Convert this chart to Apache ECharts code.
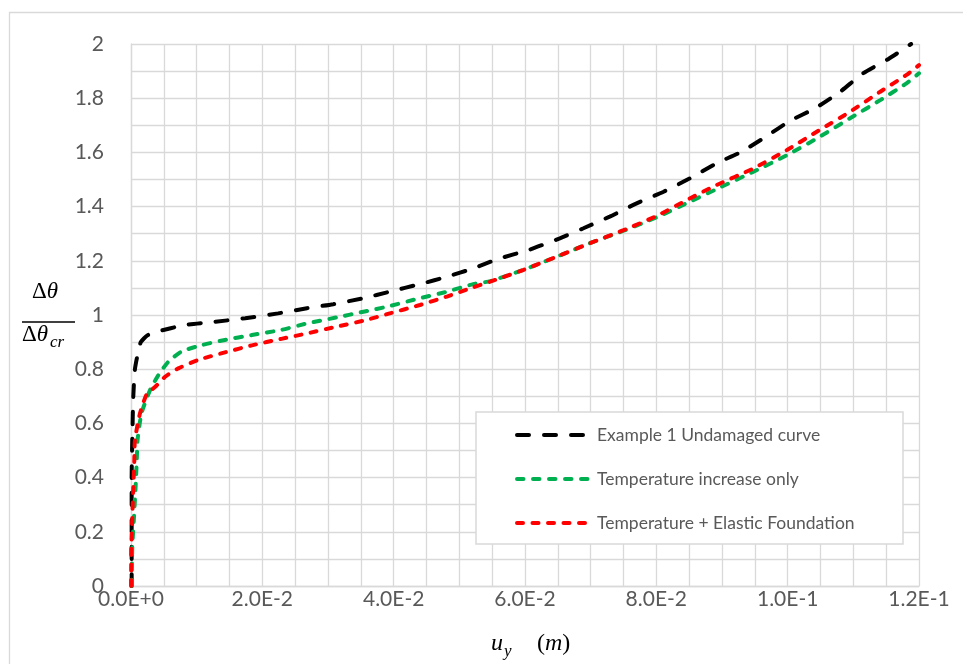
<!DOCTYPE html>
<html>
<head>
<meta charset="utf-8">
<script src="https://cdn.jsdelivr.net/npm/echarts@6/dist/echarts.min.js"></script>
<style>
html,body{margin:0;padding:0;background:#fff;}
#c{width:963px;height:664px;}
</style>
</head>
<body>
<div id="c"></div>
<script>
// ---- data ----
const seriesNames = ['Example 1 Undamaged curve', 'Temperature increase only', 'Temperature + Elastic Foundation'];

const blackX = [0.0001, 0.0001, 0.0001, 0.0002, 0.00035, 0.0006, 0.0011, 0.0015, 0.0025, 0.0039, 0.0082, 0.0128, 0.0174, 0.0224, 0.0268, 0.0308, 0.0354, 0.0394, 0.0440, 0.0481, 0.0521, 0.0557, 0.0608, 0.0653, 0.0689, 0.0729, 0.0770, 0.0811, 0.0851, 0.0892, 0.0930, 0.0968, 0.1004, 0.1042, 0.1080, 0.1115, 0.1153, 0.1188];
const blackY = [0, 0.2, 0.4, 0.55, 0.70, 0.80, 0.865, 0.90, 0.925, 0.938, 0.963, 0.975, 0.988, 1.006, 1.025, 1.04, 1.062, 1.086, 1.114, 1.141, 1.172, 1.205, 1.242, 1.283, 1.32, 1.363, 1.412, 1.455, 1.504, 1.56, 1.603, 1.66, 1.717, 1.763, 1.824, 1.892, 1.944, 2.0];

const greenX = [0.0001, 0.0002, 0.00046, 0.0007, 0.00087, 0.001, 0.0016, 0.0029, 0.0042, 0.0057, 0.0077, 0.0108, 0.0143, 0.0184, 0.0229, 0.0268, 0.0313, 0.0354, 0.0394, 0.0440, 0.0481, 0.0521, 0.0547, 0.0597, 0.0648, 0.0699, 0.0750, 0.0800, 0.0851, 0.0892, 0.0948, 0.0999, 0.1049, 0.1095, 0.1141, 0.1181, 0.1200];
const greenY = [0, 0.145, 0.256, 0.366, 0.459, 0.539, 0.637, 0.723, 0.779, 0.828, 0.865, 0.889, 0.908, 0.926, 0.945, 0.969, 0.991, 1.012, 1.033, 1.062, 1.086, 1.114, 1.125, 1.166, 1.215, 1.265, 1.311, 1.360, 1.418, 1.465, 1.529, 1.59, 1.658, 1.726, 1.793, 1.855, 1.892];

const redX = [0.00002, 0.00005, 0.0002, 0.00035, 0.0005, 0.0006, 0.00137, 0.0024, 0.0037, 0.0052, 0.0072, 0.0102, 0.0143, 0.0184, 0.0229, 0.0268, 0.0313, 0.0354, 0.0394, 0.0440, 0.0481, 0.0521, 0.0547, 0.0597, 0.0648, 0.0699, 0.0750, 0.0800, 0.0851, 0.0892, 0.0948, 0.0999, 0.1049, 0.1095, 0.1141, 0.1181, 0.1200];
const redY = [0, 0.145, 0.256, 0.366, 0.459, 0.539, 0.637, 0.708, 0.735, 0.772, 0.803, 0.834, 0.862, 0.888, 0.912, 0.932, 0.957, 0.979, 1.006, 1.037, 1.068, 1.102, 1.123, 1.166, 1.215, 1.265, 1.313, 1.365, 1.43, 1.48, 1.541, 1.609, 1.683, 1.75, 1.824, 1.886, 1.922];

const xTickLabels = ['0.0E+0', '2.0E-2', '4.0E-2', '6.0E-2', '8.0E-2', '1.0E-1', '1.2E-1'];
const xLabelStep = 0.02;
const yTickLabels = ['0', '0.2', '0.4', '0.6', '0.8', '1', '1.2', '1.4', '1.6', '1.8', '2'];
const yLabelStep = 0.2;

// ---- build ----
function pairs(xs, ys) { return xs.map((x, i) => [x, ys[i]]); }
function labelFor(list, step) {
  return function (v) {
    const k = Math.round(v / step);
    if (Math.abs(v - k * step) < 1e-9 && k >= 0 && k < list.length) return list[k];
    return '';
  };
}

const gridColor = '#d9d9d9';
const textColor = '#595959';
const uiFont = 'Lato, "Open Sans", sans-serif';
const mathFont = '"Liberation Serif", "DejaVu Serif", serif';

const colors = ['#000000', '#00B050', '#FF0000'];
const dashes = [[12, 15], [6.5, 9.5], [6, 9.5]];
const lw = 4;

const chart = echarts.init(document.getElementById('c'), null, { renderer: 'canvas' });
chart.setOption({
  animation: false,
  backgroundColor: '#fff',
  grid: { left: 131, right: 44, top: 44, bottom: 78, containLabel: false },
  xAxis: {
    type: 'value', min: 0, max: 0.12, interval: 0.005,
    axisLine: { show: true, lineStyle: { color: gridColor, width: 1.3 } },
    axisTick: { show: false },
    splitLine: { show: true, lineStyle: { color: gridColor, width: 1.3 } },
    axisLabel: { formatter: labelFor(xTickLabels, xLabelStep), color: textColor, fontFamily: uiFont, fontSize: 21, margin: 3, showMinLabel: true, showMaxLabel: true, hideOverlap: false }
  },
  yAxis: {
    type: 'value', min: 0, max: 2, interval: 0.1,
    axisLine: { show: true, lineStyle: { color: gridColor, width: 1.3 } },
    axisTick: { show: false },
    splitLine: { show: true, lineStyle: { color: gridColor, width: 1.3 } },
    axisLabel: { formatter: labelFor(yTickLabels, yLabelStep), color: textColor, fontFamily: uiFont, fontSize: 21, margin: 27, hideOverlap: false }
  },
  legend: {
    orient: 'vertical', left: 515, top: 426, padding: 0, itemGap: 26,
    itemWidth: 75, itemHeight: 14, z: 20,
    textStyle: { color: textColor, fontFamily: uiFont, fontSize: 17.5 },
    itemStyle: { opacity: 0 },
    data: seriesNames.map((n, i) => ({
      name: n,
      itemStyle: { opacity: 0 },
      lineStyle: { color: colors[i], width: lw, type: dashes[i], cap: 'round', opacity: 1 }
    }))
  },
  series: seriesNames.map((n, i) => ({
    name: n, type: 'line',
    data: [pairs(blackX, blackY), pairs(greenX, greenY), pairs(redX, redY)][i],
    symbol: 'none', showSymbol: false, smooth: 0.2, smoothMonotone: 'none', z: 3 + i,
    color: colors[i],
    lineStyle: { color: colors[i], width: lw, type: dashes[i], cap: 'round' }
  })),
  graphic: [
    { type: 'rect', z: -10, silent: true, shape: { x: 9.5, y: 12.5, width: 1200, height: 900 }, style: { fill: 'none', stroke: gridColor, lineWidth: 1.3 } },
    { type: 'rect', z: 10, silent: true, shape: { x: 476, y: 412, width: 427, height: 132 }, style: { fill: '#ffffff', stroke: gridColor, lineWidth: 1.5 } },
    // y-axis name: fraction
    { type: 'text', z: 10, left: 32, top: 280, style: { text: '{a|Δ}{b|θ}', rich: { a: { fontFamily: mathFont, fontSize: 23, fill: '#000' }, b: { fontFamily: mathFont, fontSize: 23, fontStyle: 'italic', fill: '#000' } } } },
    { type: 'line', z: 10, shape: { x1: 22, y1: 322, x2: 75, y2: 322 }, style: { stroke: '#000', lineWidth: 1.3 } },
    { type: 'text', z: 10, left: 22, top: 323, style: { text: '{a|Δ}{b|θ}', rich: { a: { fontFamily: mathFont, fontSize: 23, fill: '#000' }, b: { fontFamily: mathFont, fontSize: 23, fontStyle: 'italic', fill: '#000' } } } },
    { type: 'text', z: 10, left: 50, top: 334, style: { text: 'cr', fontFamily: mathFont, fontSize: 17, fontStyle: 'italic', fill: '#000' } },
    // x-axis name
    { type: 'text', z: 10, left: 491, top: 632, style: { text: 'u', fontFamily: mathFont, fontSize: 24, fontStyle: 'italic', fill: '#000' } },
    { type: 'text', z: 10, left: 504, top: 643, style: { text: 'y', fontFamily: mathFont, fontSize: 17, fontStyle: 'italic', fill: '#000' } },
    { type: 'text', z: 10, left: 537, top: 632, style: { text: '{a|(}{b|m}{a|)}', rich: { a: { fontFamily: mathFont, fontSize: 24, fill: '#000' }, b: { fontFamily: mathFont, fontSize: 24, fontStyle: 'italic', fill: '#000' } } } }
  ]
});
</script>
</body>
</html>
